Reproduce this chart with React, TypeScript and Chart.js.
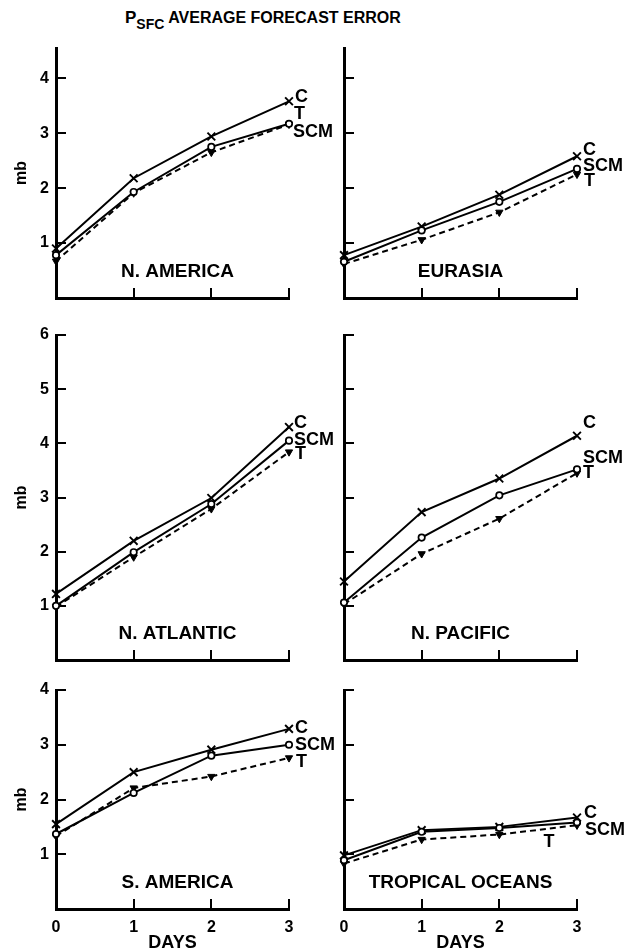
import React, { useEffect, useRef } from 'react';
import { Chart, registerables } from 'chart.js';

Chart.register(...registerables);

// ---------- data ----------
const days = [0, 1, 2, 3];

// N. America
const naC = [0.9, 2.18, 2.94, 3.58];
const naSCM = [0.78, 1.93, 2.75, 3.17];
const naT = [0.67, 1.91, 2.65, 3.16];
// Eurasia
const euC = [0.78, 1.3, 1.88, 2.58];
const euSCM = [0.66, 1.23, 1.75, 2.35];
const euT = [0.62, 1.06, 1.56, 2.25];
// N. Atlantic
const natC = [1.22, 2.2, 2.99, 4.3];
const natSCM = [1.0, 1.99, 2.88, 4.05];
const natT = [0.98, 1.9, 2.79, 3.84];
// N. Pacific
const npC = [1.45, 2.73, 3.35, 4.14];
const npSCM = [1.06, 2.26, 3.04, 3.52];
const npT = [1.03, 1.96, 2.61, 3.45];
// S. America
const saC = [1.55, 2.5, 2.91, 3.29];
const saSCM = [1.37, 2.12, 2.8, 3.0];
const saT = [1.33, 2.21, 2.42, 2.76];
// Tropical oceans
const toC = [0.98, 1.44, 1.5, 1.67];
const toSCM = [0.89, 1.41, 1.48, 1.58];
const toT = [0.83, 1.27, 1.36, 1.53];

const ticksRow1 = [1, 2, 3, 4];
const ticksRow2 = [1, 2, 3, 4, 5, 6];
const ticksRow3 = [1, 2, 3, 4];

const FONT = '"Liberation Sans", Arial, Helvetica, sans-serif';

type EndLabel = { text: string; y: number; x?: number; dx?: number };

interface PanelSpec {
  name: string;
  c: number[];
  scm: number[];
  t: number[];
  yMax: number;
  yTicks: number[];
  leftCol: boolean;
  bottomRow: boolean;
  left: number;
  top: number;
  w: number;
  h: number;
  padTop: number;
  padBottom: number;
  padRight: number;
  yAxisW: number;
  xAxisH: number;
  nameDx: number;
  labels: EndLabel[];
}

const COL_L = { left: 0, w: 340, yAxisW: 56, padRight: 51, nameDx: 5 };
const COL_R = { left: 300, w: 342, yAxisW: 44, padRight: 65, nameDx: 0 };
const ROW1 = { top: 16, h: 314, padTop: 32, xAxisH: 2, padBottom: 30 };
const ROW2 = { top: 300, h: 395, padTop: 35, xAxisH: 5, padBottom: 30 };
const ROW3 = { top: 658, h: 293, padTop: 32, xAxisH: 42, padBottom: 0 };

const panels: PanelSpec[] = [
  {
    name: 'N. AMERICA', c: naC, scm: naSCM, t: naT, yMax: 4.55, yTicks: ticksRow1,
    leftCol: true, bottomRow: false, ...COL_L, ...ROW1,
    labels: [{ text: 'C', y: 3.65, dx: 6 }, { text: 'T', y: 3.34, dx: 5 }, { text: 'SCM', y: 3.02, dx: 4 }],
  },
  {
    name: 'EURASIA', c: euC, scm: euSCM, t: euT, yMax: 4.55, yTicks: ticksRow1,
    leftCol: false, bottomRow: false, ...COL_R, ...ROW1,
    labels: [{ text: 'C', y: 2.69, dx: 6 }, { text: 'SCM', y: 2.4, dx: 6 }, { text: 'T', y: 2.13, dx: 7 }],
  },
  {
    name: 'N. ATLANTIC', c: natC, scm: natSCM, t: natT, yMax: 6, yTicks: ticksRow2,
    leftCol: true, bottomRow: false, ...COL_L, ...ROW2,
    labels: [{ text: 'C', y: 4.38, dx: 5 }, { text: 'SCM', y: 4.07, dx: 5 }, { text: 'T', y: 3.8, dx: 6 }],
  },
  {
    name: 'N. PACIFIC', c: npC, scm: npSCM, t: npT, yMax: 6, yTicks: ticksRow2,
    leftCol: false, bottomRow: false, ...COL_R, ...ROW2,
    labels: [{ text: 'C', y: 4.37, dx: 6 }, { text: 'SCM', y: 3.73, dx: 6 }, { text: 'T', y: 3.45, dx: 6 }],
  },
  {
    name: 'S. AMERICA', c: saC, scm: saSCM, t: saT, yMax: 4, yTicks: ticksRow3,
    leftCol: true, bottomRow: true, ...COL_L, ...ROW3,
    labels: [{ text: 'C', y: 3.31, dx: 6 }, { text: 'SCM', y: 3.0, dx: 6 }, { text: 'T', y: 2.68, dx: 7 }],
  },
  {
    name: 'TROPICAL OCEANS', c: toC, scm: toSCM, t: toT, yMax: 4, yTicks: ticksRow3,
    leftCol: false, bottomRow: true, ...COL_R, ...ROW3,
    labels: [{ text: 'C', y: 1.76, dx: 7 }, { text: 'SCM', y: 1.45, dx: 8 }, { text: 'T', y: 1.22, x: 2.57, dx: 0 }],
  },
];

const panelTextPlugin = {
  id: 'panelText',
  afterDraw(chart: any) {
    const spec: PanelSpec = chart.options.plugins.panelText.spec;
    const { ctx, chartArea } = chart;
    const xs = chart.scales.x;
    const ys = chart.scales.y;
    ctx.save();
    ctx.fillStyle = '#000';
    ctx.font = `bold 19px ${FONT}`;
    ctx.textAlign = 'center';
    ctx.textBaseline = 'middle';
    ctx.fillText(spec.name, (chartArea.left + chartArea.right) / 2 + spec.nameDx, chartArea.bottom - 26);
    ctx.font = `bold 18px ${FONT}`;
    ctx.textAlign = 'left';
    for (const l of spec.labels) {
      const px = xs.getPixelForValue(l.x ?? 3) + (l.dx ?? 5);
      const py = ys.getPixelForValue(l.y);
      ctx.fillText(l.text, px, py);
    }
    ctx.restore();
  },
};

function pts(vals: number[]) {
  return days.map((d, i) => ({ x: d, y: vals[i] }));
}

function makeConfig(spec: PanelSpec): any {
  return {
    type: 'line',
    data: {
      datasets: [
        {
          label: 'SCM',
          data: pts(spec.scm),
          borderColor: '#000',
          borderWidth: 2,
          pointStyle: 'circle',
          pointRadius: 3.2,
          pointBackgroundColor: '#fff',
          pointBorderColor: '#000',
          pointBorderWidth: 1.7,
          tension: 0,
          clip: false,
        },
        {
          label: 'C',
          data: pts(spec.c),
          borderColor: '#000',
          borderWidth: 2,
          pointStyle: 'crossRot',
          pointRadius: 5.5,
          pointBorderColor: '#000',
          pointBorderWidth: 1.9,
          tension: 0,
          clip: false,
        },
        {
          label: 'T',
          data: pts(spec.t),
          borderColor: '#000',
          borderWidth: 2,
          borderDash: [6, 4],
          pointStyle: 'triangle',
          pointRotation: 180,
          pointRadius: 4.2,
          pointBackgroundColor: '#000',
          pointBorderColor: '#000',
          pointBorderWidth: 1,
          tension: 0,
          clip: false,
        },
      ],
    },
    options: {
      responsive: false,
      animation: false,
      layout: { padding: { left: 0, right: spec.padRight, top: spec.padTop, bottom: spec.padBottom } },
      plugins: {
        legend: { display: false },
        tooltip: { enabled: false },
        panelText: { spec },
      },
      scales: {
        x: {
          type: 'linear',
          min: 0,
          max: 3,
          afterBuildTicks: (s: any) => {
            s.ticks = days.map((v) => ({ value: v }));
          },
          afterFit: (s: any) => {
            s.height = spec.xAxisH;
          },
          border: { display: true, color: '#000', width: 3 },
          grid: { drawOnChartArea: false, drawTicks: true, tickLength: -10, color: '#000', lineWidth: 2 },
          ticks: {
            display: spec.bottomRow,
            padding: 19,
            color: '#000',
            font: { family: FONT, size: 16, weight: 'bold' },
            callback: (v: number) => String(v),
          },
          title: {
            display: spec.bottomRow,
            text: 'DAYS',
            color: '#000',
            font: { family: FONT, size: 18, weight: 'bold', lineHeight: 1 },
            padding: { top: 0, bottom: -1 },
          },
        },
        y: {
          type: 'linear',
          min: 0,
          max: spec.yMax,
          afterBuildTicks: (s: any) => {
            s.ticks = spec.yTicks.map((v) => ({ value: v }));
          },
          afterFit: (s: any) => {
            s.width = spec.yAxisW;
          },
          border: { display: true, color: '#000', width: 3 },
          grid: { drawOnChartArea: false, drawTicks: true, tickLength: -10, color: '#000', lineWidth: 2 },
          ticks: {
            display: spec.leftCol,
            padding: 17,
            color: '#000',
            font: { family: FONT, size: 16, weight: 'bold' },
            callback: (v: number) => String(v),
          },
          title: {
            display: spec.leftCol,
            text: 'mb',
            color: '#000',
            font: { family: FONT, size: 16, weight: 'bold' },
            padding: { top: 12, bottom: 0 },
          },
        },
      },
    },
    plugins: [panelTextPlugin],
  };
}

function Panel({ spec }: { spec: PanelSpec }) {
  const ref = useRef<HTMLCanvasElement>(null);
  useEffect(() => {
    const chart = new Chart(ref.current as HTMLCanvasElement, makeConfig(spec));
    return () => chart.destroy();
  }, [spec]);
  return (
    <canvas
      ref={ref}
      width={spec.w}
      height={spec.h}
      style={{ position: 'absolute', left: spec.left, top: spec.top, width: spec.w, height: spec.h }}
    />
  );
}

export default function App() {
  return (
    <div
      style={{
        position: 'absolute',
        left: 0,
        top: 0,
        width: 642,
        height: 951,
        background: '#fff',
        overflow: 'hidden',
      }}
    >
      <div
        style={{
          position: 'absolute',
          left: 125,
          top: 8,
          fontFamily: FONT,
          fontWeight: 'bold',
          fontSize: 16,
          lineHeight: '20px',
          whiteSpace: 'nowrap',
          color: '#000',
        }}
      >
        <span style={{ fontSize: 17 }}>P</span>
        <span style={{ fontSize: 14, position: 'relative', top: 6 }}>SFC</span> AVERAGE FORECAST ERROR
      </div>
      {panels.map((p) => (
        <Panel key={p.name} spec={p} />
      ))}
    </div>
  );
}
